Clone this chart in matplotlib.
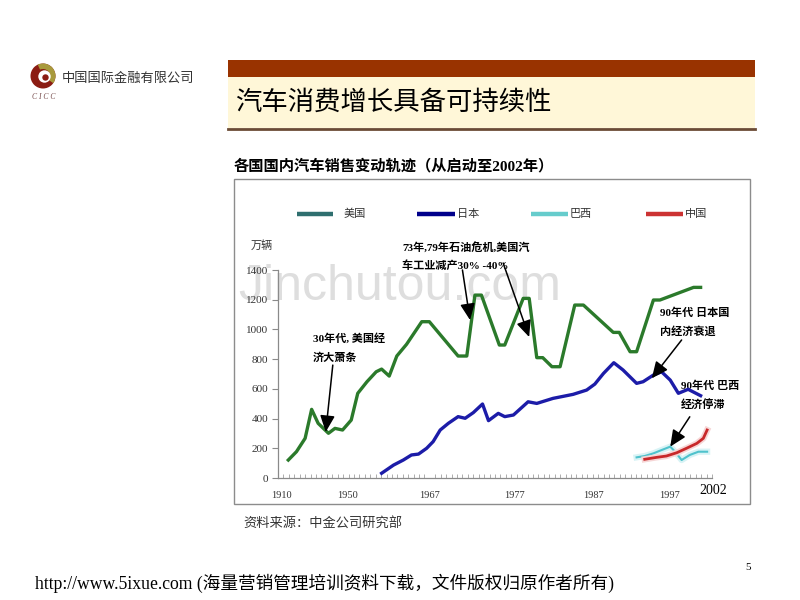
import matplotlib
matplotlib.use('Agg')
import matplotlib.pyplot as plt
from matplotlib.patches import Rectangle, Circle, Wedge
import matplotlib.patheffects as pe

CJK = 'Noto Sans CJK SC'
SERIF = ['Liberation Serif', CJK]
plt.rcParams['font.family'] = [CJK, 'DejaVu Sans']

# ---------------- data (x = category position on the axis) ----------------
series_names = ['美国', '日本', '巴西', '中国']

us_x = [1.9, 3.4, 5.0, 6.2, 7.4, 9.3, 10.5, 11.9, 13.5, 14.7, 16.4, 18.1, 19.1, 20.5,
        21.9, 23.7, 26.5, 27.9, 33.2, 34.8, 36.3, 37.5, 40.8, 41.8, 45.2, 46.3, 47.7,
        48.8, 50.5, 52.0, 54.7, 56.3, 61.8, 62.9, 64.9, 66.1, 69.2, 70.4, 76.6, 77.9]
us_y = [121, 177, 267, 462, 368, 301, 334, 323, 390, 570, 648, 715, 733, 686,
        821, 900, 1052, 1052, 821, 821, 1231, 1231, 895, 895, 1209, 1209, 810,
        810, 749, 749, 1164, 1164, 980, 980, 850, 850, 1198, 1198, 1283, 1283]

jp_x = [19.1, 21.3, 23.1, 24.6, 25.9, 27.4, 28.6, 29.9, 31.4, 33.2, 34.5, 36.0, 37.7,
        38.8, 40.6, 41.8, 43.4, 46.1, 47.7, 50.7, 54.4, 56.9, 58.4, 60.0, 61.9, 63.6,
        66.1, 67.3, 69.2, 70.7, 72.3, 73.8, 75.6, 77.9]
jp_y = [32, 87, 121, 155, 161, 200, 245, 323, 368, 413, 402, 440, 498,
        386, 435, 413, 424, 513, 502, 536, 563, 592, 632, 704, 776, 727,
        637, 648, 693, 715, 659, 570, 597, 554]

br_x = [66.1, 67.6, 69.2, 70.7, 72.3, 73.2, 74.4, 75.9, 77.5, 79.1]
br_y = [139, 148, 166, 188, 211, 177, 121, 155, 177, 177]

cn_x = [67.6, 69.8, 71.6, 73.5, 75.3, 77.2, 78.4, 79.1]
cn_y = [126, 139, 148, 170, 200, 233, 267, 323]

tick_pos = [0.7, 12.9, 28.0, 43.5, 58.1, 72.1]
tick_labels = ['1910', '1950', '1967', '1977', '1987', '1997']
y_ticks = [0, 200, 400, 600, 800, 1000, 1200, 1400]

# annotations: (text lines, arrow tail (x, y), arrow head (x, y))
ann1 = (['30年代, 美国经', '济大萧条'], (10.1, 760), (8.8, 310))
ann2 = (['73年,79年石油危机,美国汽', '车工业减产30% -40%'], (34.0, 1400), (35.4, 1063))
ann2b_tail, ann2b_head = (41.5, 1447), (46.3, 949)
ann3 = (['90年代 日本国', '内经济衰退'], (74.4, 929), (68.9, 671))
ann4 = (['90年代 巴西', '经济停滞'], (75.9, 412), (72.3, 211))

# ---------------- figure ----------------
fig = plt.figure(figsize=(8, 6), dpi=100)
bg = fig.add_axes([0, 0, 1, 1], zorder=0)
bg.set_xlim(0, 800)
bg.set_ylim(600, 0)
bg.axis('off')

# header band
bg.add_patch(Rectangle((228, 60), 527, 17, color='#993300', lw=0))
bg.add_patch(Rectangle((228, 77), 527, 51, color='#FFF7D8', lw=0))
bg.plot([228, 755], [128.5, 128.5], color='#6b4b35', lw=2)
bg.text(235, 102, '汽车消费增长具备可持续性', fontsize=19, va='center', ha='left',
        color='black')

# logo
bg.add_patch(Circle((43, 76), 12.5, color='#8b1c13', lw=0))
bg.add_patch(Wedge((43, 76), 12.5, -115, 35, width=5.5, color='#a89a3c', lw=0))
bg.add_patch(Circle((44.5, 76.5), 6.2, color='white', lw=0))
bg.add_patch(Circle((45.5, 77.5), 3.2, color='#8b1c13', lw=0))
bg.text(62, 78, '中国国际金融有限公司', fontsize=9.5, va='center', ha='left',
        color='#333333')
bg.text(44, 97, 'C I C C', fontsize=5.5, style='italic', family=SERIF,
        ha='center', va='center', color='#7a5050')

# chart title and frame
bg.text(234, 166, '各国国内汽车销售变动轨迹（从启动至2002年）', fontsize=11,
        fontweight='bold', va='center', ha='left', family=SERIF)
bg.add_patch(Rectangle((234, 179), 516, 325, fill=False, ec='#8c8c8c', lw=1))

# watermark
bg.text(400, 287, 'Jinchutou.com', fontsize=36, color='#dedede', ha='center',
        va='center', family='Liberation Sans')

# legend (manual, as in the original slide)
leg_colors = ['#2f6f6f', '#00008b', '#66cccc', '#cc3333']
leg_x = [(297, 333, 344), (417, 455, 457), (531, 568, 570), (646, 683, 685)]
for name, col, (x0, x1, xt) in zip(series_names, leg_colors, leg_x):
    bg.plot([x0, x1], [214, 214], color=col, lw=3.2, solid_capstyle='butt')
    bg.text(xt, 214, name, fontsize=8, va='center', ha='left', color='#333333')

# y unit
bg.text(262, 246, '万辆', fontsize=8, va='center', ha='center', color='#333333')
bg.text(713, 491, '2002', fontsize=10, va='center', ha='center', family=SERIF)

# source, footer, page number
bg.text(243, 523, '资料来源：中金公司研究部', fontsize=9.5, va='center', ha='left',
        color='#333333', style='italic')
bg.text(35, 583, 'http://www.5ixue.com (海量营销管理培训资料下载，文件版权归原作者所有)',
        fontsize=12.7, va='center', ha='left', family=SERIF)
bg.text(748, 568, '5', fontsize=8, va='center', ha='center', family=SERIF)

# annotation texts
def two_lines(x, y1, y2, lines):
    for yy, t in zip((y1, y2), lines):
        bg.text(x, yy, t, fontsize=8, va='center', ha='left', family=SERIF,
                fontweight='semibold')

two_lines(313, 338, 358, ann1[0])
two_lines(402, 247, 266, ann2[0])
two_lines(660, 313, 331, ann3[0])
two_lines(681, 386, 405, ann4[0])

# ---------------- chart axes ----------------
ax = fig.add_axes([278 / 800, 1 - 478 / 600, 434 / 800, 208 / 600], zorder=2)
ax.patch.set_alpha(0)
ax.set_xlim(0, 80)
ax.set_ylim(0, 1400)
for s in ['top', 'right']:
    ax.spines[s].set_visible(False)
for s in ['left', 'bottom']:
    ax.spines[s].set_color('#8a8a8a')
    ax.spines[s].set_linewidth(0.9)

ax.set_yticks(y_ticks)
ax.set_yticklabels([str(v) for v in y_ticks], family=SERIF, fontsize=8, color='#333333')
ax.tick_params(axis='y', direction='out', length=4, color='#8a8a8a', pad=3)
ax.set_xticks(tick_pos)
ax.set_xticklabels(tick_labels, family=SERIF, fontsize=7.5, color='#333333')
ax.tick_params(axis='x', which='major', length=0, pad=9)
ax.set_xticks(range(0, 81), minor=True)
ax.tick_params(axis='x', which='minor', direction='in', length=3, color='#a0a0a0')

ax.plot(us_x, us_y, color='#2b7a2b', lw=2.4, solid_joinstyle='round', zorder=3)
ax.plot(jp_x, jp_y, color='#1c1ca8', lw=2.4, solid_joinstyle='round', zorder=3)
ax.plot(br_x, br_y, color='#4fc2cc', lw=1.5, zorder=3,
        path_effects=[pe.Stroke(linewidth=4.5, foreground='#d8f3f5'), pe.Normal()])
ax.plot(cn_x, cn_y, color='#c8282a', lw=2.0, zorder=4,
        path_effects=[pe.Stroke(linewidth=4.5, foreground='#f6d6d6'), pe.Normal()])

arrow_kw = dict(arrowstyle='-|>,head_length=1.0,head_width=0.45', color='black',
                lw=1.1, shrinkA=0, shrinkB=0, mutation_scale=10)
for tail, head in [(ann1[1], ann1[2]), (ann2[1], ann2[2]), (ann2b_tail, ann2b_head),
                   (ann3[1], ann3[2]), (ann4[1], ann4[2])]:
    ax.annotate('', xy=head, xytext=tail, arrowprops=arrow_kw,
                annotation_clip=False, zorder=5)

fig.savefig('out.png', dpi=100)
